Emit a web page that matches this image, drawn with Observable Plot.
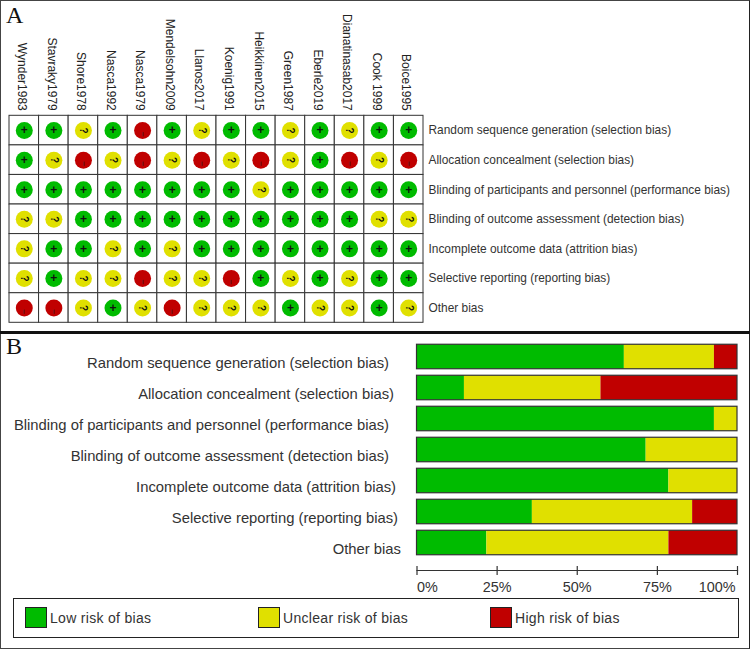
<!DOCTYPE html>
<html><head><meta charset="utf-8">
<script src="https://cdn.jsdelivr.net/npm/d3@7"></script>
<script src="https://cdn.jsdelivr.net/npm/@observablehq/plot@0.6"></script>
<style>
html,body{margin:0;padding:0;background:#fff}
#page{position:relative;width:750px;height:649px;overflow:hidden;font-family:"Liberation Sans",Arial,sans-serif;color:#333}
#page svg{position:absolute;left:0;background:transparent}
.letter{position:absolute;left:6px;font:24px "Liberation Serif",serif;color:#111;line-height:24px}
#frame{position:absolute;left:0;top:0;width:748px;height:647px;border:1px solid #444;border-right-color:#222}
#rule{position:absolute;left:0;top:331px;width:750px;height:3px;background:#111}
#legend{position:absolute;left:13px;top:598px;width:724px;height:38px;border:1px solid #222;background:#fff}
.sw{position:absolute;top:8px;width:20px;height:19px;border:1px solid #222}
.lb{position:absolute;top:0;line-height:39px;font-size:14px;letter-spacing:.3px;color:#333;white-space:nowrap}
</style></head><body><div id="page"><div id="frame"></div><div id="rule"></div>
<div class="letter" style="top:3px">A</div><div class="letter" style="top:334px">B</div>
<div id="legend"></div></div>
<script>
const studies=["Wynder1983","Stavraky1979","Shore1978","Nasca1992","Nasca1979","Mendelsohn2009","Llanos2017","Koenig1991","Heikkinen2015","Green1987","Eberle2019","Dianatinasab2017","Cook 1999","Boice1995"];
const domains=["Random sequence generation (selection bias)","Allocation concealment (selection bias)","Blinding of participants and personnel (performance bias)","Blinding of outcome assessment (detection bias)","Incomplete outcome data (attrition bias)","Selective reporting (reporting bias)","Other bias"];
const judgements=[
"++?+-+?++?+?++",
"+?-?-?-?-?+-?-",
"++++++++?+++++",
"??++++++++++??",
"?++?+?++++++++",
"?+??-??-+?+?++",
"--?+?-???+??+?"];
const low=[64.7,14.8,92.8,71.5,78.6,36,21.8];
const unclear=[28.1,42.6,7.2,28.5,21.4,50,56.8];
const high=[7.2,42.6,0,0,0,14,21.4];
const riskNames=["Low risk of bias","Unclear risk of bias","High risk of bias"];
const riskColors=["#00bb00","#e0e000","#c00000"];
const ticksPct=[0,25,50,75,100];

const cells=domains.flatMap((d,r)=>studies.map((s,c)=>({study:s,domain:d,j:judgements[r][c]})));
const fillOf={"+":riskColors[0],"?":riskColors[1],"-":riskColors[2]};
const page=document.getElementById("page");

const gridPlot=Plot.plot({width:750,height:331,marginLeft:9,marginRight:327,marginTop:115.3,marginBottom:8.7,
 style:{background:"transparent",fontFamily:"Liberation Sans, Arial, sans-serif"},
 x:{domain:studies,padding:0,round:false,axis:null},y:{domain:domains,padding:0,round:false,axis:null},
 marks:[
  Plot.cell(cells,{x:"study",y:"domain",fill:"#fff",stroke:"#333",strokeWidth:1}),
  Plot.dot(cells,{x:"study",y:"domain",r:8.5,fill:d=>fillOf[d.j],stroke:null}),
  Plot.text(cells.filter(d=>d.j==="+"),{x:"study",y:"domain",text:"j",fontSize:12,fontWeight:"bold",fill:"#111"}),
  Plot.text(cells.filter(d=>d.j==="?"),{x:"study",y:"domain",text:"j",fontSize:10,fontWeight:"bold",fill:"#111",rotate:90}),
  Plot.text(cells.filter(d=>d.j==="-"),{x:"study",y:"domain",text:()=>"\u2212",fontSize:9,fill:"#222",rotate:90,dy:3.5}),
  Plot.axisX({anchor:"top",tickSize:0,tickPadding:5,tickRotate:90,fontSize:12,label:null,fill:"#222",textAnchor:"end",dx:-2.5}),
  Plot.axisY({anchor:"right",tickSize:0,tickPadding:5,fontSize:11.9,label:null,fill:"#333",textAnchor:"start",tickFormat:d=>d})
 ]});
gridPlot.style.top="0px";page.appendChild(gridPlot);

const stacked=domains.flatMap((d,i)=>[
 {domain:d,risk:riskNames[0],v:low[i]},{domain:d,risk:riskNames[1],v:unclear[i]},{domain:d,risk:riskNames[2],v:high[i]}]);
// the reference's row labels are not flush on the right
const labelShift=[-28,-23,-28,-28,-21,-19,-16];
const barPlot=Plot.plot({width:750,height:315,marginLeft:416.5,marginRight:13,marginTop:7,marginBottom:83,
 style:{background:"transparent",fontFamily:"Liberation Sans, Arial, sans-serif",overflow:"visible"},
 x:{domain:[0,100],axis:null},
 y:{domain:domains,paddingInner:.21,paddingOuter:.105,round:false,range:[7,224],axis:null},
 color:{domain:riskNames,range:riskColors},
 marks:[
  Plot.barX(stacked,Plot.stackX({x:"v",y:"domain",fill:"risk",order:riskNames})),
  Plot.barX(domains,{x1:0,x2:100,y:d=>d,fill:"none",stroke:"#333",strokeWidth:1.2}),
  ...domains.map((d,i)=>Plot.text([d],{x:0,y:d=>d,text:d=>d,textAnchor:"end",dx:labelShift[i],dy:6,fontSize:14.8,fill:"#333"})),
  Plot.frame({anchor:"bottom",dy:4,stroke:"#333",strokeWidth:1.2}),
  Plot.axisX({anchor:"bottom",ticks:ticksPct,tickSize:9,tickFormat:()=>"",label:null,stroke:"#333",strokeWidth:1.2}),
  Plot.text([0],{x:d=>d,text:d=>d+"%",frameAnchor:"bottom",dy:25,textAnchor:"start",fontSize:14.4,fill:"#333"}),
  Plot.text(ticksPct.slice(1,4),{x:d=>d,text:d=>d+"%",frameAnchor:"bottom",dy:25,fontSize:14.4,fill:"#333"}),
  Plot.text([100],{x:d=>d,text:d=>d+"%",frameAnchor:"bottom",dy:25,dx:-2,textAnchor:"end",fontSize:14.4,fill:"#333"})
 ]});
barPlot.style.top="334px";page.appendChild(barPlot);

const legend=document.getElementById("legend");
[[11,36],[244,269],[476,501]].forEach(([sx,tx],i)=>{
 const s=document.createElement("div");s.className="sw";s.style.left=sx+"px";s.style.background=riskColors[i];legend.appendChild(s);
 const t=document.createElement("div");t.className="lb";t.style.left=tx+"px";t.textContent=riskNames[i];legend.appendChild(t);
});
</script></body></html>
